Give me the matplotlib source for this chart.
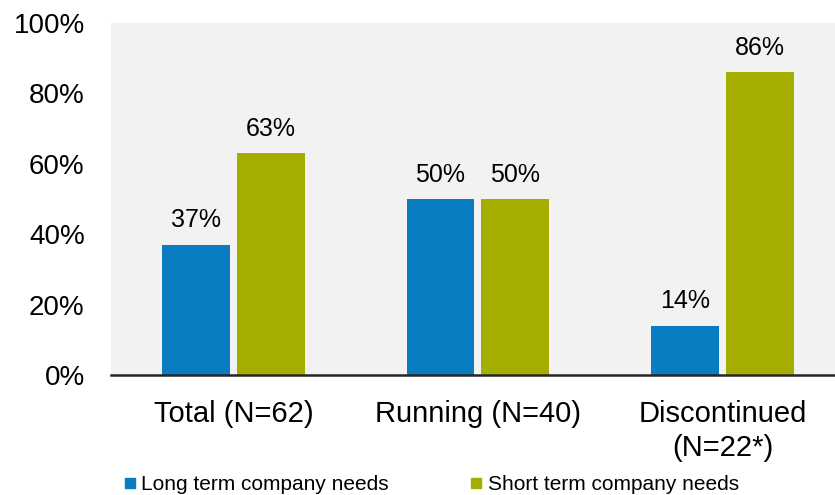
import matplotlib
matplotlib.use("Agg")
import matplotlib.pyplot as plt
from matplotlib.lines import Line2D
import numpy as np

plt.rcParams['font.family'] = ['Liberation Sans', 'DejaVu Sans']

# ---------- Data ----------
groups = ["Total (N=62)", "Running (N=40)", "Discontinued\n(N=22*)"]
long_term = [37, 50, 14]
short_term = [63, 50, 86]
series_names = ["Long term company needs", "Short term company needs"]
yticks = [0, 20, 40, 60, 80, 100]

blue = "#0A7CC1"
green = "#A4AE00"

# ---------- Figure ----------
fig = plt.figure(figsize=(8.35, 4.95), dpi=100)
ax = fig.add_axes([0.133, 0.2424, 0.867, 0.7111])
ax.set_facecolor("#F2F2F2")

x = np.arange(len(groups))
w = 0.278
off = 0.153

b1 = ax.bar(x - off, long_term, w, color=blue)
b2 = ax.bar(x + off, short_term, w, color=green)

for bars, vals in [(b1, long_term), (b2, short_term)]:
    for rect, v in zip(bars, vals):
        ax.annotate(f"{v}%", (rect.get_x() + rect.get_width() / 2, v),
                    xytext=(0, 9), textcoords="offset points",
                    ha="center", va="bottom", fontsize=18)

ax.set_xlim(-0.5, 2.46)
ax.set_ylim(0, 100)
ax.set_yticks(yticks)
ax.set_yticklabels([f"{t}%" for t in yticks], fontsize=20)
ax.set_xticks(x)
ax.set_xticklabels(groups, fontsize=21, linespacing=1.25, va="top")
ax.tick_params(axis="y", length=0, pad=19)
ax.tick_params(axis="x", length=0, pad=18)

for s in ["top", "right", "left"]:
    ax.spines[s].set_visible(False)
ax.spines["bottom"].set_linewidth(1.8)
ax.spines["bottom"].set_color("#262626")

# ---------- Legend ----------
handles = [Line2D([], [], marker="s", linestyle="none", markersize=7, color=c)
           for c in (blue, green)]
fig.legend(handles, series_names, loc="lower left", ncol=2, frameon=False,
           fontsize=15, handlelength=0.5, handletextpad=0.3,
           columnspacing=3.95, borderpad=0, borderaxespad=0,
           bbox_to_anchor=(0.149, 0.002))

fig.savefig("out.png", dpi=100)
